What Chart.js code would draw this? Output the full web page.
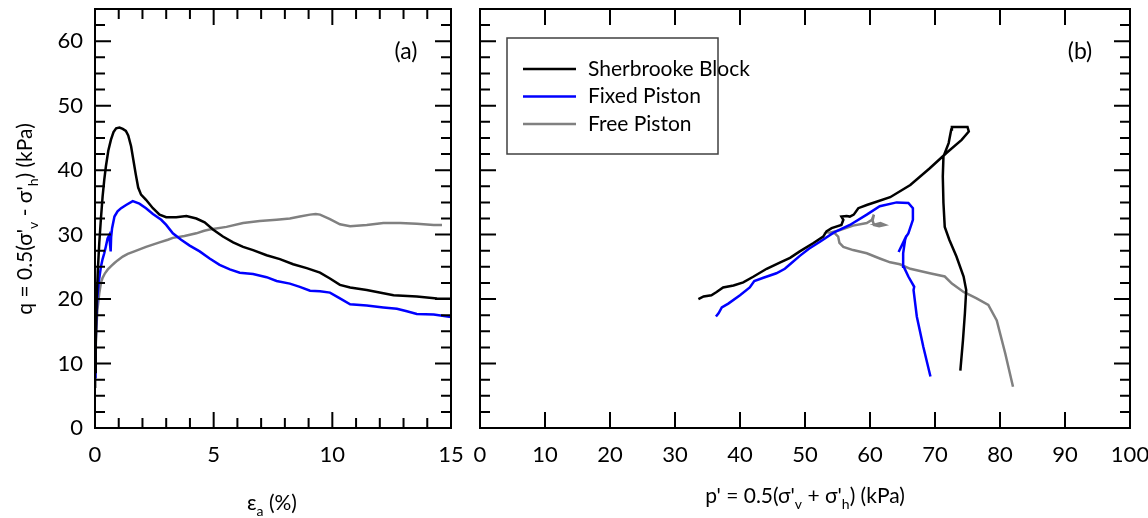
<!DOCTYPE html>
<html>
<head>
<meta charset="utf-8">
<script src="https://cdn.jsdelivr.net/npm/chart.js@4.4.1/dist/chart.umd.min.js"></script>
<style>
  html, body { margin: 0; padding: 0; background: #fff; }
  #wrap { position: relative; width: 1148px; height: 518px; }
  #chartA { position: absolute; left: 0; top: 0; }
  #chartB { position: absolute; left: 470px; top: 0; }
</style>
</head>
<body>
<div id="wrap">
  <canvas id="chartA" width="470" height="518"></canvas>
  <canvas id="chartB" width="678" height="518"></canvas>
</div>
<script>
const seriesNames = ["Sherbrooke Block", "Fixed Piston", "Free Piston"];
const seriesColors = ["#000000", "#0000ff", "#808080"];

// (a) q against axial strain
const strainBlock = [0, 0.03, 0.07, 0.12, 0.18, 0.25, 0.32, 0.39, 0.46, 0.56, 0.67, 0.78, 0.89, 1.03, 1.17, 1.3, 1.4, 1.52, 1.62, 1.72, 1.82, 1.94, 2.15, 2.44, 2.72, 3.0, 3.42, 3.85, 4.27, 4.62, 4.97, 5.39, 5.82, 6.24, 6.66, 7.23, 7.79, 8.35, 8.92, 9.48, 9.9, 10.32, 10.75, 11.45, 12.15, 12.58, 13.56, 14.41, 15.0];
const qBlock = [8.7, 13, 19.8, 24.5, 28.7, 32.5, 35.9, 38.5, 40.6, 43, 44.7, 45.9, 46.5, 46.6, 46.4, 46.1, 45.4, 43.7, 41.5, 39.3, 37.3, 36.2, 35.4, 34.1, 33.1, 32.7, 32.7, 32.9, 32.5, 31.9, 30.8, 29.7, 28.8, 28.1, 27.6, 26.8, 26.2, 25.4, 24.8, 24.1, 23.2, 22.2, 21.8, 21.4, 20.9, 20.6, 20.4, 20.1, 20.05];

const strainFixed = [0, 0.02, 0.05, 0.1, 0.17, 0.25, 0.32, 0.39, 0.46, 0.53, 0.6, 0.63, 0.66, 0.68, 0.72, 0.82, 0.95, 1.1, 1.31, 1.59, 1.87, 2.15, 2.44, 2.79, 3.0, 3.28, 3.63, 3.99, 4.41, 4.83, 5.25, 5.68, 6.1, 6.66, 7.23, 7.65, 8.21, 8.63, 9.06, 9.48, 9.9, 10.32, 10.75, 11.45, 12.15, 12.72, 13.14, 13.56, 14.27, 15.0];
const qFixed = [7.9, 12, 16.5, 20.4, 23, 25, 26.2, 27.1, 28.2, 29.4, 29.9, 29.9, 27.4, 29.6, 31.0, 32.8, 33.6, 34.1, 34.6, 35.2, 34.8, 34.1, 33.2, 32.3, 31.5, 30.2, 29.2, 28.3, 27.4, 26.3, 25.3, 24.6, 24.1, 23.9, 23.4, 22.8, 22.4, 21.9, 21.3, 21.2, 21.0, 20.1, 19.2, 19.0, 18.7, 18.5, 18.1, 17.7, 17.6, 17.2];

const strainFree = [0, 0.02, 0.05, 0.1, 0.18, 0.25, 0.32, 0.42, 0.54, 0.7, 0.82, 0.95, 1.17, 1.38, 1.66, 2.15, 2.72, 3.07, 3.28, 3.77, 4.27, 4.6, 4.83, 5.54, 6.24, 6.94, 7.65, 8.21, 8.63, 9.06, 9.3, 9.48, 9.9, 10.32, 10.75, 11.45, 12.15, 12.86, 13.56, 14.27, 14.62];
const qFree = [6.4, 11, 15, 18.3, 20.9, 22.5, 23.3, 24.0, 24.6, 25.2, 25.6, 26.0, 26.6, 27.0, 27.4, 28.1, 28.8, 29.2, 29.5, 29.8, 30.2, 30.6, 30.8, 31.2, 31.8, 32.1, 32.3, 32.5, 32.8, 33.1, 33.2, 33.1, 32.4, 31.6, 31.3, 31.5, 31.8, 31.8, 31.7, 31.5, 31.5];

// (b) stress paths, q against p'
const pBlock = [73.9, 74.3, 74.6, 74.8, 74.4, 73.3, 72.2, 71.5, 71.3, 71.2, 71.3, 72.1, 72.5, 72.6, 75.0, 75.2, 74.1, 71.8, 69.2, 66.2, 63.1, 61.0, 59.5, 58.2, 57.5, 56.9, 56.4, 55.6, 55.9, 55.6, 54.1, 53.3, 52.8, 51.3, 49.2, 47.7, 46.2, 44.1, 42.1, 40.5, 39.0, 37.4, 36.4, 35.6, 34.4, 33.6];
const qPathBlock = [8.9, 13.6, 17.8, 21.4, 23.5, 26.6, 29.2, 31.2, 34.9, 39.0, 42.1, 44.2, 46.3, 46.7, 46.7, 46.0, 44.7, 42.7, 40.3, 37.7, 35.8, 35.1, 34.6, 34.1, 33.1, 32.8, 32.9, 32.8, 32.3, 31.5, 31.0, 30.5, 29.7, 28.7, 27.4, 26.4, 25.7, 24.7, 23.5, 22.6, 22.1, 21.8, 21.1, 20.6, 20.4, 20.0];

const pFixed = [69.3, 68.2, 67.2, 66.7, 66.8, 65.9, 65.2, 65.1, 65.4, 65.6, 64.4, 65.5, 65.9, 66.6, 66.6, 65.9, 64.1, 61.5, 59.5, 56.9, 54.4, 52.3, 50.6, 49.2, 47.7, 46.9, 45.6, 43.6, 42.2, 41.5, 40.0, 38.2, 37.2, 36.7, 36.3];
const qPathFixed = [8.0, 12.6, 17.3, 21.4, 21.9, 23.5, 25.0, 27.1, 29.2, 29.8, 27.3, 29.6, 30.2, 32.3, 34.1, 34.9, 35.0, 34.4, 33.1, 31.5, 30.3, 28.9, 27.8, 26.7, 25.4, 24.7, 24.0, 23.3, 22.8, 21.8, 20.6, 19.3, 18.7, 17.8, 17.3];

const pFree = [82.0, 80.8, 79.5, 78.2, 76.4, 74.4, 72.6, 71.5, 69.2, 66.2, 64.6, 63.1, 61.5, 59.5, 57.4, 55.9, 55.3, 55.1, 54.6, 53.8, 55.4, 57.4, 59.5, 60.3, 60.6, 60.4, 60.6, 61.4, 62.3, 61.6, 60.9, 61.8];
const qPathFree = [6.4, 11.6, 16.7, 19.1, 20.1, 21.1, 22.4, 23.5, 24.0, 24.7, 25.4, 25.7, 26.3, 27.1, 27.6, 28.1, 28.7, 29.7, 30.2, 30.3, 30.7, 31.4, 31.8, 32.3, 33.1, 32.2, 31.5, 31.3, 31.5, 31.8, 31.6, 31.5];

// ticks
const strainTicks = [0, 5, 10, 15];
const strainMinorTicks = [1, 2, 3, 4, 6, 7, 8, 9, 11, 12, 13, 14];
const pTicks = [0, 10, 20, 30, 40, 50, 60, 70, 80, 90, 100];
const qTicks = [0, 10, 20, 30, 40, 50, 60];
const qMinorTicks = [2.5, 5, 7.5, 12.5, 15, 17.5, 22.5, 25, 27.5, 32.5, 35, 37.5, 42.5, 45, 47.5, 52.5, 55, 57.5, 62.5];

const FONT = "Lato, 'Open Sans', sans-serif";

function toPoints(xs, ys) {
    return xs.map((x, i) => ({ x: x, y: ys[i] }));
}

function lineSet(i, xs, ys) {
    return {
        label: seriesNames[i],
        data: toPoints(xs, ys),
        showLine: true,
        borderColor: seriesColors[i],
        backgroundColor: seriesColors[i],
        borderWidth: 2.5,
        pointRadius: 0,
        tension: 0,
        fill: false
    };
}

// draws text with subscript pieces, centred on (cx, cy)
function richText(ctx, parts, cx, cy, angle) {
    const big = "21px " + FONT, small = "14px " + FONT;
    let total = 0;
    parts.forEach(p => { ctx.font = p[1] ? small : big; total += ctx.measureText(p[0]).width; });
    ctx.save();
    ctx.translate(cx, cy);
    if (angle) ctx.rotate(angle);
    ctx.fillStyle = "#000";
    ctx.textBaseline = "middle";
    ctx.textAlign = "left";
    let x = -total / 2;
    parts.forEach(p => {
        ctx.font = p[1] ? small : big;
        ctx.fillText(p[0], x, p[1] ? 8 : 0);
        x += ctx.measureText(p[0]).width;
    });
    ctx.restore();
}

const frameTicks = {
    id: "frameTicks",
    afterDatasetsDraw(chart, args, opts) {
        const { ctx, chartArea: a, scales } = chart;
        ctx.save();
        ctx.strokeStyle = "#000";
        ctx.lineWidth = 2;
        ctx.beginPath();
        const xTick = (vals, len) => vals.forEach(v => {
            const px = scales.x.getPixelForValue(v);
            ctx.moveTo(px, a.bottom); ctx.lineTo(px, a.bottom - len);
            ctx.moveTo(px, a.top); ctx.lineTo(px, a.top + len);
        });
        const yTick = (vals, len) => vals.forEach(v => {
            const py = scales.y.getPixelForValue(v);
            ctx.moveTo(a.left, py); ctx.lineTo(a.left + len, py);
            ctx.moveTo(a.right, py); ctx.lineTo(a.right - len, py);
        });
        xTick(opts.xMajor, 16);
        xTick(opts.xMinor || [], 10);
        yTick(qTicks, 16);
        yTick(qMinorTicks, 10);
        ctx.stroke();
        ctx.strokeRect(a.left, a.top, a.right - a.left, a.bottom - a.top);
        ctx.restore();
    }
};

const captions = {
    id: "captions",
    afterDraw(chart, args, opts) {
        const ctx = chart.ctx, a = chart.chartArea;
        (opts.items || []).forEach(it => richText(ctx, it.parts, it.x, it.y, it.angle || 0));
        ctx.save();
        ctx.font = "23px " + FONT;
        ctx.fillStyle = "#000";
        ctx.textAlign = "center";
        ctx.textBaseline = "middle";
        ctx.fillText(opts.panel, a.right - opts.panelDx, a.top + 43);
        ctx.restore();
    }
};

const boxLegend = {
    id: "boxLegend",
    afterDraw(chart, args, opts) {
        if (!opts.show) return;
        const ctx = chart.ctx, a = chart.chartArea;
        const left = a.left + 27, top = a.top + 29;
        ctx.save();
        ctx.strokeStyle = "#404040";
        ctx.lineWidth = 1.5;
        ctx.strokeRect(left, top, 211, 116);
        ctx.font = "21px " + FONT;
        ctx.textBaseline = "middle";
        ctx.textAlign = "left";
        chart.data.datasets.forEach((ds, i) => {
            const y = top + 31 + i * 27.5;
            ctx.strokeStyle = ds.borderColor;
            ctx.lineWidth = 2.5;
            ctx.beginPath();
            ctx.moveTo(left + 16, y);
            ctx.lineTo(left + 69, y);
            ctx.stroke();
            ctx.fillStyle = "#000";
            ctx.fillText(ds.label, left + 81, y);
        });
        ctx.restore();
    }
};

function axisX(min, max, ticks) {
    return {
        type: "linear", min: min, max: max,
        afterBuildTicks: s => { s.ticks = ticks.map(v => ({ value: v })); },
        afterFit: s => { s.height = 90; s.paddingLeft = 0; s.paddingRight = 0; },
        grid: { display: false, drawTicks: false },
        border: { display: false },
        ticks: { padding: 14, color: "#000", maxRotation: 0, autoSkip: false, font: { family: FONT, size: 22 } }
    };
}

function axisY(width, showLabels) {
    return {
        type: "linear", min: 0, max: 65,
        afterBuildTicks: s => { s.ticks = qTicks.map(v => ({ value: v })); },
        afterFit: s => { s.width = width; s.paddingTop = 0; s.paddingBottom = 0; },
        grid: { display: false, drawTicks: false },
        border: { display: false },
        ticks: { display: showLabels, padding: 12, color: "#000", font: { family: FONT, size: 22 } }
    };
}

new Chart(document.getElementById("chartA"), {
    type: "scatter",
    data: {
        datasets: [
            lineSet(0, strainBlock, qBlock),
            lineSet(1, strainFixed, qFixed),
            lineSet(2, strainFree, qFree)
        ]
    },
    options: {
        responsive: false,
        animation: false,
        layout: { autoPadding: false, padding: { top: 9, right: 19, bottom: 0, left: 0 } },
        scales: { x: axisX(0, 15, strainTicks), y: axisY(95, true) },
        plugins: {
            legend: { display: false },
            tooltip: { enabled: false },
            frameTicks: { xMajor: strainTicks, xMinor: strainMinorTicks },
            captions: {
                panel: "(a)", panelDx: 45,
                items: [
                    { parts: [["ε", 0], ["a", 1], [" (%)", 0]], x: 272, y: 503 },
                    { parts: [["q = 0.5(σ'", 0], ["v", 1], [" - σ'", 0], ["h", 1], [") (kPa)", 0]], x: 25, y: 219, angle: -Math.PI / 2 }
                ]
            }
        }
    },
    plugins: [frameTicks, captions]
});

new Chart(document.getElementById("chartB"), {
    type: "scatter",
    data: {
        datasets: [
            lineSet(0, pBlock, qPathBlock),
            lineSet(1, pFixed, qPathFixed),
            lineSet(2, pFree, qPathFree)
        ]
    },
    options: {
        responsive: false,
        animation: false,
        layout: { autoPadding: false, padding: { top: 9, right: 18, bottom: 0, left: 0 } },
        scales: { x: axisX(0, 100, pTicks), y: axisY(10, false) },
        plugins: {
            legend: { display: false },
            tooltip: { enabled: false },
            frameTicks: { xMajor: pTicks },
            boxLegend: { show: true },
            captions: {
                panel: "(b)", panelDx: 50,
                items: [
                    { parts: [["p' = 0.5(σ'", 0], ["v", 1], [" + σ'", 0], ["h", 1], [") (kPa)", 0]], x: 805 - 470, y: 496 }
                ]
            }
        }
    },
    plugins: [frameTicks, captions, boxLegend]
});
</script>
</body>
</html>
